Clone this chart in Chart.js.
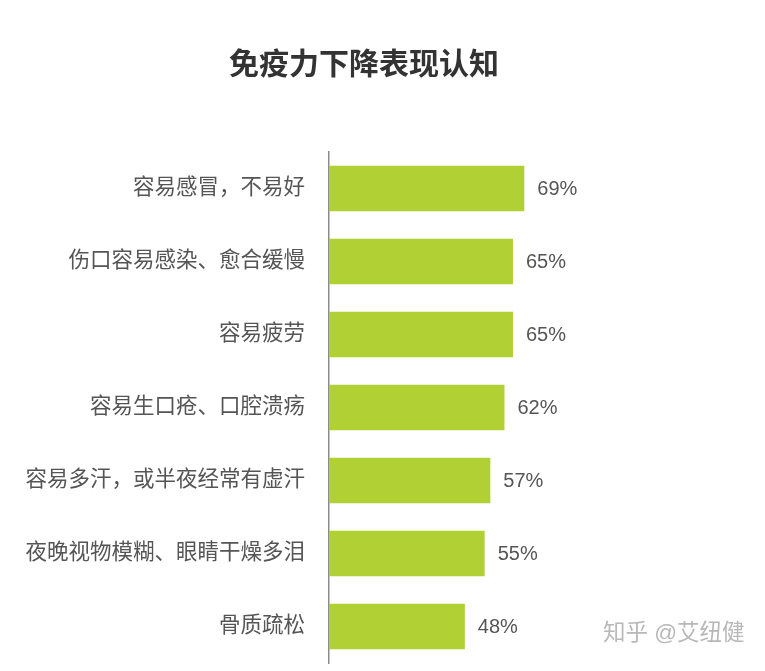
<!DOCTYPE html>
<html>
<head>
<meta charset="utf-8">
<script src="https://cdn.jsdelivr.net/npm/chart.js@4"></script>
<style>
html,body{margin:0;padding:0;background:#fff;overflow:hidden;}
#wrap{width:765px;height:671px;position:relative;}
</style>
</head>
<body>
<div id="wrap"><canvas id="c"></canvas></div>
<script>
const titleText = '免疫力下降表现认知';
const categories = ['容易感冒，不易好','伤口容易感染、愈合缓慢','容易疲劳','容易生口疮、口腔溃疡','容易多汗，或半夜经常有虚汗','夜晚视物模糊、眼睛干燥多泪','骨质疏松'];
const values = [69, 65, 65, 62, 57, 55, 48];
const valueLabels = ['69%','65%','65%','62%','57%','55%','48%'];
const watermark = '知乎 @艾纽健';

const FONT = '"Liberation Sans", "Noto Sans CJK SC", sans-serif';

const extras = {
  id: 'extras',
  afterDatasetsDraw(chart) {
    const ctx = chart.ctx;
    const meta = chart.getDatasetMeta(0);
    ctx.save();
    ctx.font = '20px ' + FONT;
    ctx.fillStyle = '#555555';
    ctx.textAlign = 'left';
    ctx.textBaseline = 'middle';
    meta.data.forEach((bar, i) => {
      ctx.fillText(valueLabels[i], bar.x + 13, bar.y + 1);
    });
    ctx.restore();
  },
  afterDraw(chart) {
    const ctx = chart.ctx;
    ctx.save();
    ctx.font = 'bold 30px ' + FONT;
    ctx.fillStyle = '#333333';
    ctx.textAlign = 'center';
    ctx.textBaseline = 'middle';
    ctx.fillText(titleText, 364, 66);
    ctx.font = '22.5px ' + FONT;
    ctx.fillStyle = '#b8b8b8';
    ctx.textAlign = 'left';
    ctx.fillText(watermark, 603, 634);
    ctx.restore();
  }
};

new Chart(document.getElementById('c'), {
  type: 'bar',
  data: {
    labels: categories,
    datasets: [{
      data: values,
      backgroundColor: '#b0d034',
      borderWidth: 0,
      categoryPercentage: 1,
      barPercentage: 0.62
    }]
  },
  options: {
    indexAxis: 'y',
    responsive: true,
    maintainAspectRatio: false,
    animation: false,
    layout: { padding: { top: 152, bottom: 8, left: 0, right: 153 } },
    plugins: { legend: { display: false }, title: { display: false }, tooltip: { enabled: false } },
    scales: {
      x: { display: false, min: 0, max: 100 },
      y: {
        afterFit(scale) { scale.width = 329; scale.paddingTop = 0; scale.paddingBottom = 0; },
        grid: { display: false, drawTicks: false },
        border: { display: true, color: '#8c8c8c', width: 1.5 },
        ticks: { padding: 24, color: '#555555', font: { size: 21.5, family: FONT } }
      }
    }
  },
  plugins: [extras]
});
</script>
</body>
</html>
